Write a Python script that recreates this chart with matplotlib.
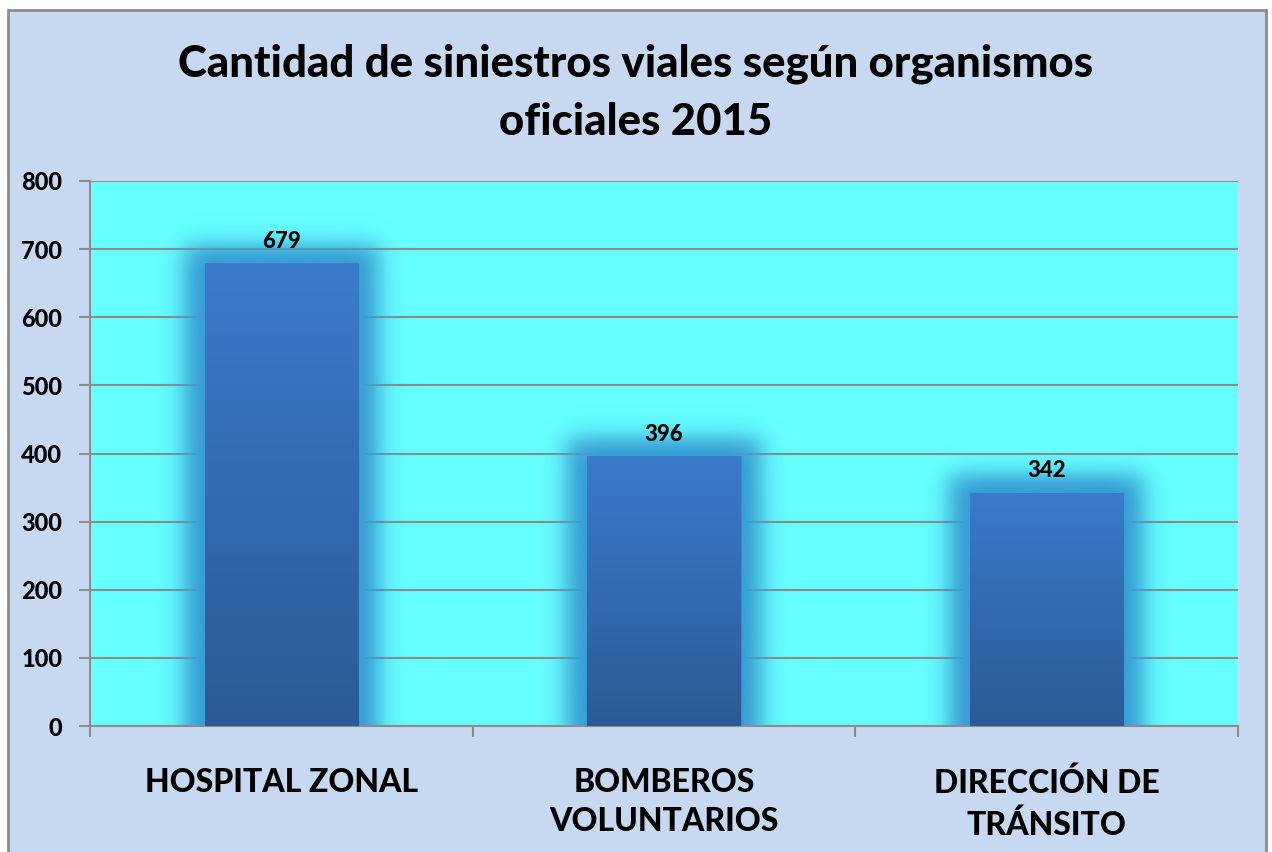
import numpy as np
import matplotlib.pyplot as plt
from matplotlib.patches import Rectangle
from matplotlib.colors import LinearSegmentedColormap, to_rgb

categories = ['HOSPITAL ZONAL', 'BOMBEROS\nVOLUNTARIOS', 'DIRECCIÓN DE\nTRÁNSITO']
values = [679, 396, 342]
yticks = [0, 100, 200, 300, 400, 500, 600, 700, 800]

plt.rcParams['font.family'] = ['Lato', 'DejaVu Sans']
plt.rcParams['font.weight'] = 'black'
plt.rcParams['font.style'] = 'normal'

fig = plt.figure(figsize=(12.72, 8.52), dpi=100)
fig.patch.set_facecolor('white')
# outer chart area with grey border
fig.patches.append(Rectangle((8 / 1272, -0.05), (1266 - 8) / 1272, 1.05 - 10 / 852,
                             transform=fig.transFigure, facecolor='#C6D9F0',
                             edgecolor='#8C8C8C', linewidth=2, zorder=-5))

ax = fig.add_axes([90 / 1272, 1 - 726 / 852, (1238 - 90) / 1272, (726 - 181) / 852])
ax.set_facecolor('#66FFFF')

x = np.arange(len(categories))
bw = 0.4


def smoothbox(t, a, b, s):
    return 0.5 * (np.tanh((t - a) / s) - np.tanh((t - b) / s))


# soft glow behind the bars
gx = np.linspace(-0.5, 2.5, 1200)
gy = np.linspace(0, 800, 800)
GX, GY = np.meshgrid(gx, gy)
glow = np.zeros_like(GX)
for xi, v in zip(x, values):
    g = smoothbox(GX, xi - bw / 2 - 0.055, xi + bw / 2 + 0.055, 0.04) * \
        smoothbox(GY, -100, v + 28, 20)
    glow = np.maximum(glow, g)
rgba = np.zeros(GX.shape + (4,))
rgba[..., :3] = to_rgb('#39A0D5')
rgba[..., 3] = np.clip(glow * 1.1, 0, 1) ** 1.1
ax.imshow(rgba, extent=[-0.5, 2.5, 0, 800], origin='lower', aspect='auto', zorder=2,
          interpolation='bilinear')

bars = ax.bar(x, values, width=bw, color='#3A7BCB', edgecolor='#4F81BD',
              linewidth=0.8, zorder=3)

# vertical gradient inside each bar
grad = np.linspace(0, 1, 256).reshape(-1, 1)
cmap = LinearSegmentedColormap.from_list('g', ['#2C5A96', '#3A7BCC'])
for b in bars:
    x0, w, h = b.get_x(), b.get_width(), b.get_height()
    im = ax.imshow(grad, extent=[x0, x0 + w, 0, h], origin='lower', aspect='auto',
                   cmap=cmap, zorder=3.5)
    im.set_clip_path(b)

for xi, v in zip(x, values):
    ax.text(xi, v + 17, str(v), ha='center', va='bottom', fontsize=16,
            fontweight='black', fontstyle='normal', zorder=5)

ax.set_xlim(-0.5, 2.5)
ax.set_ylim(0, 800)
ax.set_yticks(yticks)
ax.set_yticklabels([str(t) for t in yticks], fontsize=17, fontweight='black')
ax.yaxis.grid(True, color='#8C8C8C', linewidth=1.5, zorder=1)
ax.set_axisbelow(True)

ax.set_xticks([-0.5, 0.5, 1.5, 2.5])
ax.set_xticklabels([])
ax.set_xticks(x, minor=True)
ax.set_xticklabels(categories, minor=True, fontsize=23, fontweight='black',
                   linespacing=1.45)
ax.tick_params(axis='x', which='minor', length=0, pad=30)
ax.tick_params(axis='x', which='major', length=8, width=1.5, color='#8C8C8C')
ax.tick_params(axis='y', length=8, width=1.5, color='#8C8C8C', pad=12)

for s in ['top', 'right']:
    ax.spines[s].set_visible(False)
for s in ['left', 'bottom']:
    ax.spines[s].set_color('#8C8C8C')
    ax.spines[s].set_linewidth(1.5)

fig.text(0.5, 1 - 93 / 852, 'Cantidad de siniestros viales según organismos\noficiales 2015',
         ha='center', va='center', fontsize=31.5, fontweight='black', linespacing=1.55)

fig.savefig('out.png', dpi=100, facecolor=fig.get_facecolor())
